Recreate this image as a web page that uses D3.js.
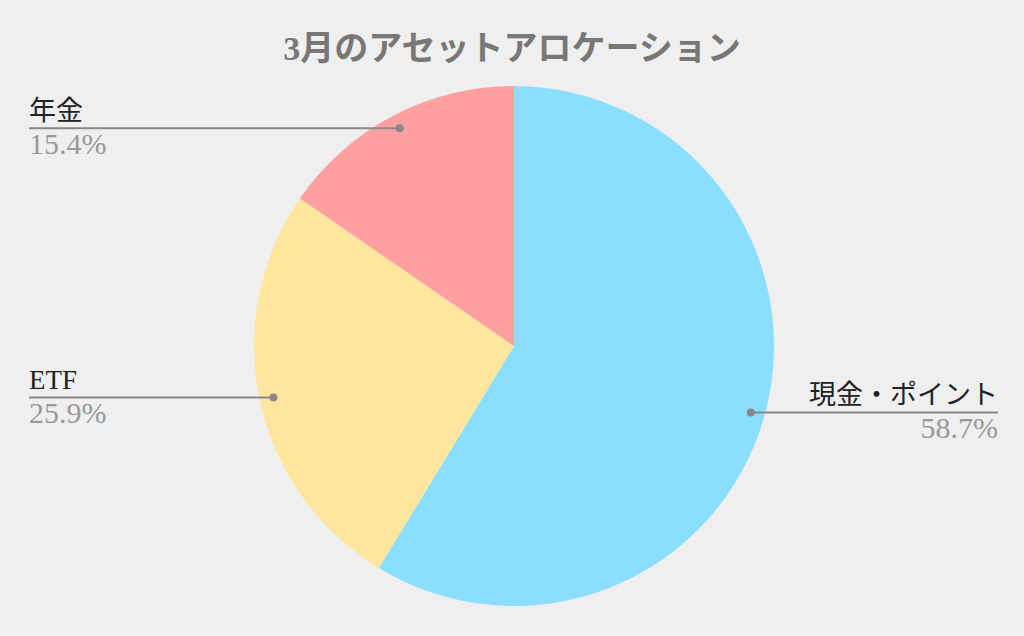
<!DOCTYPE html>
<html>
<head>
<meta charset="utf-8">
<script src="https://cdn.jsdelivr.net/npm/d3@7"></script>
<style>
body { margin: 0; background: #efefef; }
svg { display: block; }
text { font-family: "Liberation Serif", "Noto Sans CJK JP", serif; }
</style>
</head>
<body>
<script>
var title = "3月のアセットアロケーション";
var categories = ["現金・ポイント", "ETF", "年金"];
var values = [58.7, 25.9, 15.4];
var colors = ["#8adfff", "#ffe69e", "#ffa0a0"];

var width = 1024, height = 636;
var cx = 514, cy = 346, radius = 260;

var svg = d3.select("body").append("svg")
    .attr("width", width).attr("height", height);

svg.append("rect").attr("width", width).attr("height", height).attr("fill", "#efefef");

svg.append("text")
    .attr("x", 512).attr("y", 60)
    .attr("text-anchor", "middle")
    .attr("font-size", 34).attr("font-weight", "bold")
    .attr("fill", "#777")
    .text(title);

var data = categories.map(function (c, i) { return {name: c, value: values[i], color: colors[i]}; });

var pie = d3.pie().sort(null).value(function (d) { return d.value; });
var arc = d3.arc().innerRadius(0).outerRadius(radius);
var arcs = pie(data);

var g = svg.append("g").attr("transform", "translate(" + cx + "," + cy + ")");
g.selectAll("path").data(arcs).enter().append("path")
    .attr("d", arc)
    .attr("fill", function (d) { return d.data.color; });

// leader lines: dot at slice middle near the rim, line out to the side
arcs.forEach(function (d) {
    var mid = (d.startAngle + d.endAngle) / 2;
    var left = mid > Math.PI;
    var r = radius * 0.946;
    var x = cx + r * Math.sin(mid);
    var y = cy - r * Math.cos(mid);
    var x2 = left ? 29 : 998;

    svg.append("line")
        .attr("x1", x).attr("y1", y).attr("x2", x2).attr("y2", y)
        .attr("stroke", "#888").attr("stroke-width", 2);
    svg.append("circle")
        .attr("cx", x).attr("cy", y).attr("r", 4).attr("fill", "#888");

    svg.append("text")
        .attr("x", x2).attr("y", y - 8)
        .attr("text-anchor", left ? "start" : "end")
        .attr("font-size", 27).attr("fill", "#222")
        .text(d.data.name);
    svg.append("text")
        .attr("x", x2).attr("y", y + 26)
        .attr("text-anchor", left ? "start" : "end")
        .attr("font-size", 30).attr("fill", "#999")
        .text(d.data.value.toFixed(1) + "%");
});
</script>
</body>
</html>
